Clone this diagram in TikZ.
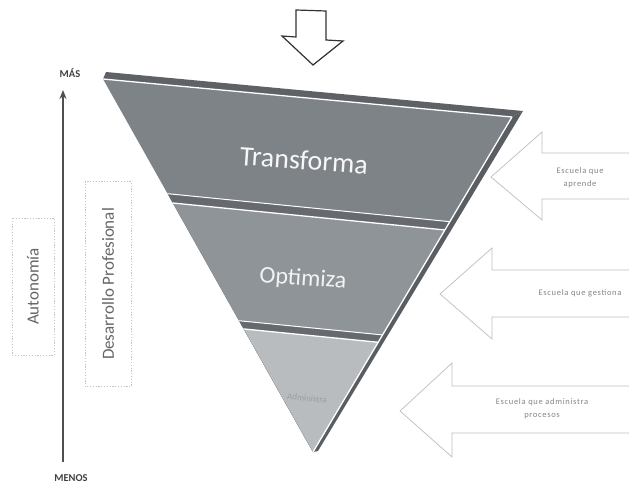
\documentclass[tikz,border=0pt]{standalone}
\usepackage{fontspec}
\setmainfont{Carlito}
\usetikzlibrary{arrows.meta}
\definecolor{layA}{HTML}{7E8388}
\definecolor{layB}{HTML}{8F9499}
\definecolor{layC}{HTML}{B8BCBF}
\definecolor{slabc}{HTML}{66696D}
\definecolor{topc}{HTML}{5E6165}
\definecolor{sidec}{HTML}{5A5D61}
\definecolor{axisc}{HTML}{505050}
\definecolor{labc}{HTML}{666666}
\definecolor{boxc}{HTML}{C4C4C4}
\definecolor{arrc}{HTML}{B9BFC5}
\definecolor{arrtxt}{HTML}{858585}
\definecolor{faintc}{HTML}{9A9EA2}
\begin{document}
\begin{tikzpicture}[x=1pt,y=-1pt,
  hl/.style={draw=white,line width=1.3pt},
  vlab/.style={rotate=90,draw=boxc,dash pattern=on 1.2pt off 1.6pt,line width=0.8pt,
    text=labc,font=\fontsize{17}{17}\selectfont,inner sep=0pt},
  rarrow/.style={draw=arrc,line width=0.7pt,line join=miter},
  arrlab/.style={text=arrtxt,font=\fontsize{8.5}{13}\selectfont\addfontfeatures{LetterSpace=8},align=center},
  axlab/.style={text=black!75,font=\fontsize{10.5}{10.5}\selectfont\bfseries}]
\useasboundingbox (0,0) rectangle (629,489);
\fill[white] (0,0) rectangle (629,489);

% top arrow
\draw[line width=1.2pt,draw=black!80,fill=white,line join=miter]
  (296,10) -- (326,11) -- (326,40) -- (343,41) -- (313,65) -- (282,36) -- (296,37) -- cycle;

% triangle corners
\coordinate (TLb) at (106,72);
\coordinate (TRb) at (523,111);
\coordinate (TL) at (103,79);
\coordinate (TR) at (512,117);
\coordinate (TIP) at (313,452);
\coordinate (TIPs) at (318,451);

% side face and top face
\fill[sidec] (TR) -- (TRb) -- (TIPs) -- (TIP) -- cycle;
\fill[topc] (TLb) -- (TRb) -- (TR) -- (TL) -- cycle;

\begin{scope}
  \clip (TL) -- (TR) -- (TIP) -- cycle;
  \fill[layA] (90,60) rectangle (530,460);
  \fill[slabc] (90,186.0) -- (530,229.6) -- (530,460) -- (90,460) -- cycle;
  \fill[layB] (90,194.8) -- (530,238.4) -- (530,460) -- (90,460) -- cycle;
  \fill[slabc] (90,306.0) -- (530,349.5) -- (530,460) -- (90,460) -- cycle;
  \fill[layC] (90,313.7) -- (530,357.3) -- (530,460) -- (90,460) -- cycle;
  \draw[hl,line width=1pt] (90,186.0) -- (530,229.6);
  \draw[hl] (90,194.8) -- (530,238.4);
  \draw[hl,line width=1pt] (90,306.0) -- (530,349.5);
  \draw[hl] (90,313.7) -- (530,357.3);
\end{scope}
\draw[hl] (TL) -- (TR);
\draw[hl] (TR) -- (TIP);

% layer labels
\node[font=\fontsize{28}{28}\selectfont,text=white!94!gray,rotate=-4] (t1) at (304,160) {Transforma};
\node[font=\fontsize{24}{24}\selectfont,text=white!90!gray,rotate=-4] (t2) at (303,279) {Optimiza};
\node[font=\fontsize{9}{9}\selectfont,text=faintc,rotate=-6] (t3) at (307,398) {Administra};

% axis
\coordinate (axb) at (63,462);
\coordinate (axt) at (63,90);
\draw[-{Stealth[length=9pt,width=7pt]},line width=1.6pt,draw=axisc] (axb) -- (axt);
\node[axlab] (mas) at (70,73) {MÁS};
\node[axlab] (menos) at (71,478) {MENOS};

% side labels
\node[vlab,minimum width=137pt,minimum height=42pt] (auto) at (33,286.5) {Autonomía};
\node[vlab,minimum width=205pt,minimum height=46pt] (desa) at (108,284) {Desarrollo Profesional};

% right arrows
\draw[rarrow] (629,153) -- (542,153) -- (542,132) -- (491,177) -- (542,220) -- (542,199) -- (629,199);
\node[arrlab] (a1) at (580,178) {Escuela que\\aprende};
\draw[rarrow] (629,270) -- (492,270) -- (492,248) -- (440,294) -- (492,339) -- (492,317) -- (629,317);
\node[arrlab] (a2) at (580,293) {Escuela que gestiona};
\draw[rarrow] (629,386) -- (452,386) -- (452,363) -- (400,411) -- (452,457) -- (452,433) -- (629,433);
\node[arrlab] (a3) at (542,409) {Escuela que administra\\procesos};
\end{tikzpicture}
\end{document}
